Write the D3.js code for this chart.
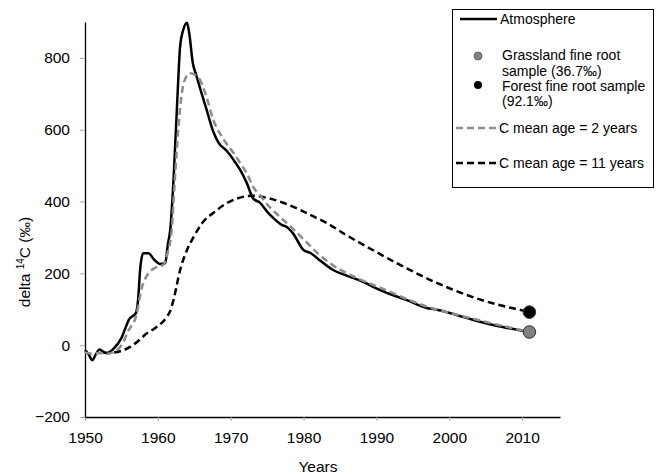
<!DOCTYPE html>
<html>
<head>
<meta charset="utf-8">
<script src="https://cdn.jsdelivr.net/npm/d3@7"></script>
<style>
  body { margin: 0; background: #fff; }
  svg { display: block; font-family: "Liberation Sans", Arial, sans-serif; }
</style>
</head>
<body>
<svg id="chart" width="657" height="475"></svg>
<script>
// ---- Data ----
const atmYears  = [1950, 1950.5, 1951, 1951.5, 1952, 1952.5, 1953, 1954, 1955, 1955.5, 1956, 1957, 1957.3, 1957.6, 1958, 1958.7, 1959.5, 1960.3, 1961, 1961.4, 1961.7, 1962.2, 1962.8, 1963.05, 1963.5, 1964, 1964.3, 1964.8, 1965.3, 1965.8, 1966.7, 1967.6, 1968.3, 1969.5, 1970.4, 1971.3, 1972.2, 1973.1, 1974, 1975, 1975.8, 1977, 1977.7, 1978.6, 1980, 1981, 1982, 1984, 1986, 1988, 1990, 1991, 1994, 1997, 1998, 2001, 2003, 2006, 2008, 2011];
const atmValues = [-14, -25, -42, -25, -12, -18, -22, -8, 20, 45, 70, 90, 130, 218, 256, 256, 238, 226, 228, 284, 321, 480, 740, 831, 879, 898, 870, 786, 750, 715, 655, 595, 565, 540, 516, 488, 452, 408, 397, 372, 355, 335, 329, 310, 265, 256, 240, 210, 193, 178, 158, 149, 127, 103, 100, 84, 72, 56, 48, 36.7];

const age2Years  = [1950, 1951, 1952, 1953, 1954, 1955, 1956, 1957, 1957.8, 1958.7, 1959.6, 1960.7, 1961.4, 1961.9, 1962.3, 1962.8, 1963.3, 1963.7, 1964.4, 1965.1, 1965.8, 1966.7, 1967.6, 1968.8, 1970.4, 1971.7, 1972.2, 1973.1, 1974, 1975, 1976.4, 1977.7, 1979.5, 1980, 1982, 1984, 1987, 1991, 1994, 1997, 2000, 2003, 2006, 2011];
const age2Values = [-20, -24, -22, -24, -18, 0, 42, 80, 160, 200, 215, 223, 262, 320, 450, 600, 703, 739, 757, 753, 738, 690, 628, 580, 535, 495, 479, 440, 418, 392, 364, 340, 305, 295, 255, 223, 190, 156, 130, 107, 90, 75, 60, 37];

const age11Years  = [1952.5, 1953, 1955, 1956.9, 1958.5, 1959.8, 1961.2, 1961.7, 1962.2, 1963, 1964, 1964.9, 1966.2, 1967.6, 1969.5, 1971.7, 1973.1, 1975, 1977.3, 1979.5, 1981, 1983.2, 1986, 1988.7, 1993.3, 1997.9, 2002.5, 2007, 2010, 2011];
const age11Values = [-20, -22, -16, 5, 33, 50, 78, 95, 130, 205, 265, 301, 343, 368, 396, 413, 416, 410, 396, 377, 362, 340, 305, 274, 223, 177, 139, 111, 97, 92.1];

const sampleLabels = ["Grassland fine root sample (36.7‰)", "Forest fine root sample (92.1‰)"];
const sampleYears  = [2011, 2011];
const sampleValues = [36.7, 92.1];

const xTicks = [1950, 1960, 1970, 1980, 1990, 2000, 2010];
const yTicks = [-200, 0, 200, 400, 600, 800];

// ---- Layout ----
const svg = d3.select("#chart");
const x = d3.scaleLinear().domain([1950, 2015.2]).range([85, 560]);
const y = d3.scaleLinear().domain([-200, 900]).range([417, 22]);

// Axes
const xAxis = svg.append("g").attr("transform", "translate(0,417)")
  .call(d3.axisBottom(x).tickValues(xTicks).tickFormat(d3.format("d")).tickSize(4).tickPadding(11).tickSizeOuter(0));
const yAxis = svg.append("g").attr("transform", "translate(85,0)")
  .call(d3.axisLeft(y).tickValues(yTicks).tickSize(5).tickPadding(10).tickSizeOuter(0));

[xAxis, yAxis].forEach(g => {
  g.select(".domain").attr("stroke", "#000").attr("stroke-width", 1.3);
  g.selectAll(".tick line").attr("stroke", "#a6a6a6");
  g.selectAll(".tick text").attr("font-size", "15.5px").attr("fill", "#000")
    .attr("font-family", "'Liberation Sans', Arial, sans-serif");
});

// Axis titles
svg.append("text").attr("x", 318).attr("y", 472).attr("text-anchor", "middle")
  .attr("font-size", "15.5px").text("Years");
const yl = svg.append("text").attr("transform", "translate(30,262) rotate(-90)")
  .attr("text-anchor", "middle").attr("font-size", "15.5px");
yl.append("tspan").text("delta ");
yl.append("tspan").attr("font-size", "10px").attr("dy", "-6").text("14");
yl.append("tspan").attr("dy", "6").text("C (‰)");

// Lines
const line = d3.line().x(d => x(d[0])).y(d => y(d[1])).curve(d3.curveMonotoneX);
const zip = (a, b) => a.map((v, i) => [v, b[i]]);

svg.append("path").datum(zip(age11Years, age11Values)).attr("d", line)
  .attr("fill", "none").attr("stroke", "#000").attr("stroke-width", 2.5).attr("stroke-dasharray", "7,4");
svg.append("path").datum(zip(atmYears, atmValues)).attr("d", line)
  .attr("fill", "none").attr("stroke", "#000").attr("stroke-width", 2.5);
svg.append("path").datum(zip(age2Years, age2Values)).attr("d", line)
  .attr("fill", "none").attr("stroke", "#8c8c8c").attr("stroke-width", 2.5).attr("stroke-dasharray", "7,4");

// Sample points
const pointFill = ["#808080", "#000"];
svg.selectAll("circle.sample").data(sampleValues).enter().append("circle")
  .attr("class", "sample")
  .attr("cx", (d, i) => x(sampleYears[i])).attr("cy", d => y(d)).attr("r", 6.3)
  .attr("fill", (d, i) => pointFill[i]).attr("stroke", "#333").attr("stroke-width", 1);

// Legend
const lg = svg.append("g");
lg.append("rect").attr("x", 452.5).attr("y", 9.5).attr("width", 201).attr("height", 178)
  .attr("fill", "#fff").attr("stroke", "#000").attr("stroke-width", 1);
const fs = "14px";
lg.append("line").attr("x1", 460).attr("x2", 497).attr("y1", 19).attr("y2", 19)
  .attr("stroke", "#000").attr("stroke-width", 2.5);
lg.append("text").attr("x", 500).attr("y", 24).attr("font-size", fs).text("Atmosphere");

lg.append("circle").attr("cx", 478).attr("cy", 56).attr("r", 4).attr("fill", "#808080").attr("stroke", "#555").attr("stroke-width", 0.8);
lg.append("text").attr("x", 502).attr("y", 60).attr("font-size", fs).text("Grassland fine root");
lg.append("text").attr("x", 502).attr("y", 76).attr("font-size", fs).text("sample (36.7‰)");

lg.append("circle").attr("cx", 478).attr("cy", 85).attr("r", 4).attr("fill", "#000");
lg.append("text").attr("x", 502).attr("y", 91).attr("font-size", fs).text("Forest fine root sample");
lg.append("text").attr("x", 502).attr("y", 106).attr("font-size", fs).text("(92.1‰)");

lg.append("line").attr("x1", 456).attr("x2", 498).attr("y1", 128).attr("y2", 128)
  .attr("stroke", "#8c8c8c").attr("stroke-width", 2.5).attr("stroke-dasharray", "7,4");
lg.append("text").attr("x", 499).attr("y", 133).attr("font-size", fs).text("C mean age = 2 years");

lg.append("line").attr("x1", 456).attr("x2", 498).attr("y1", 163).attr("y2", 163)
  .attr("stroke", "#000").attr("stroke-width", 2.5).attr("stroke-dasharray", "7,4");
lg.append("text").attr("x", 499).attr("y", 168).attr("font-size", fs).text("C mean age = 11 years");
</script>
</body>
</html>
